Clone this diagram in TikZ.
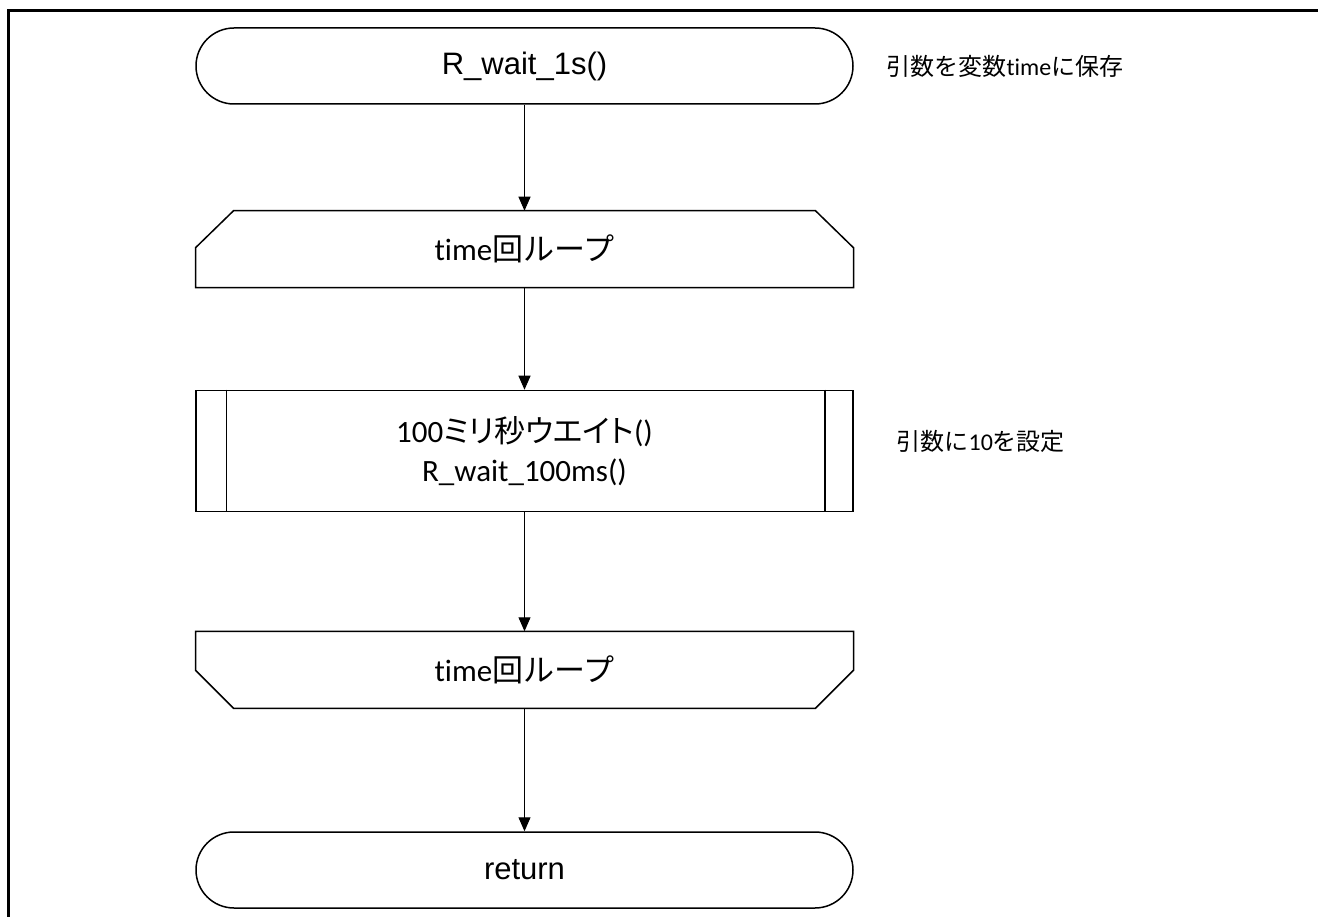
\documentclass[tikz,border=0pt]{standalone}
\usepackage{fontspec}
\setmainfont{Carlito}[Ligatures=NoCommon]
\newfontfamily\arialfont{Liberation Sans}
\newfontfamily\jpfont{Noto Sans CJK JP}
\newfontfamily\jpnarrow{Noto Sans CJK JP}[RawFeature=+palt]
\newcommand{\jp}[1]{{\jpfont #1}}
\newcommand{\jpn}[1]{{\jpnarrow #1}}
\usetikzlibrary{arrows.meta, positioning}
\tikzset{
  terminal/.style={draw, line width=1.5pt, rectangle, rounded corners=38pt, minimum width=657pt, minimum height=76pt, font=\arialfont\fontsize{31}{37}\selectfont},
  loopbox/.style={rectangle, minimum width=657pt, minimum height=76pt, font=\fontsize{31}{37}\selectfont},
  outline/.style={line width=1.5pt, line join=miter},
  subbox/.style={draw, line width=1.5pt, rectangle, minimum width=657pt, minimum height=121pt, align=center, font=\fontsize{31}{39}\selectfont},
  note/.style={anchor=west, font=\fontsize{24}{30}\selectfont}
}

\begin{document}
\begin{tikzpicture}[x=1pt, y=-1pt, >={Triangle[length=14pt, width=12pt]}, line width=1pt]
\useasboundingbox (0,0) rectangle (1318,917);
\draw[line width=3pt] (1318,11) -- (8,11) -- (8,917);
\node[terminal] (start) at (524.5,66) {R\_wait\_1s()};
\node[loopbox, below=106pt of start] (loopA) {time\jp{回ループ}};
\node[subbox, below=102pt of loopA] (wait) {100\jpn{ミリ秒ウエイト}()\\R\_wait\_100ms()};
\node[loopbox, below=119pt of wait] (loopB) {time\jp{回ループ}};
\node[terminal, below=123pt of loopB] (ret) {return};
% loop start / loop end outlines
\draw[outline] (loopA.south west) -- ([yshift=-37pt]loopA.north west) -- ([xshift=38pt]loopA.north west)
  -- ([xshift=-38pt]loopA.north east) -- ([yshift=-37pt]loopA.north east) -- (loopA.south east) -- cycle;
\draw[outline] (loopB.north west) -- ([yshift=38pt]loopB.south west) -- ([xshift=38pt]loopB.south west)
  -- ([xshift=-38pt]loopB.south east) -- ([yshift=38pt]loopB.south east) -- (loopB.north east) -- cycle;
\draw[outline] ([xshift=31pt]wait.north west) -- ([xshift=31pt]wait.south west);
\draw[outline] ([xshift=-29pt]wait.north east) -- ([xshift=-29pt]wait.south east);
\node[note, right=29pt of start] (noteA) {\jp{引数を変数}time\jp{に保存}};
\node[note, right=39pt of wait, yshift=10pt] (noteB) {\jp{引数に}10\jp{を設定}};
\draw[->] (start) -- (loopA);
\draw[->] (loopA) -- (wait);
\draw[->] (wait) -- (loopB);
\draw[->] (loopB) -- (ret);
\end{tikzpicture}
\end{document}
